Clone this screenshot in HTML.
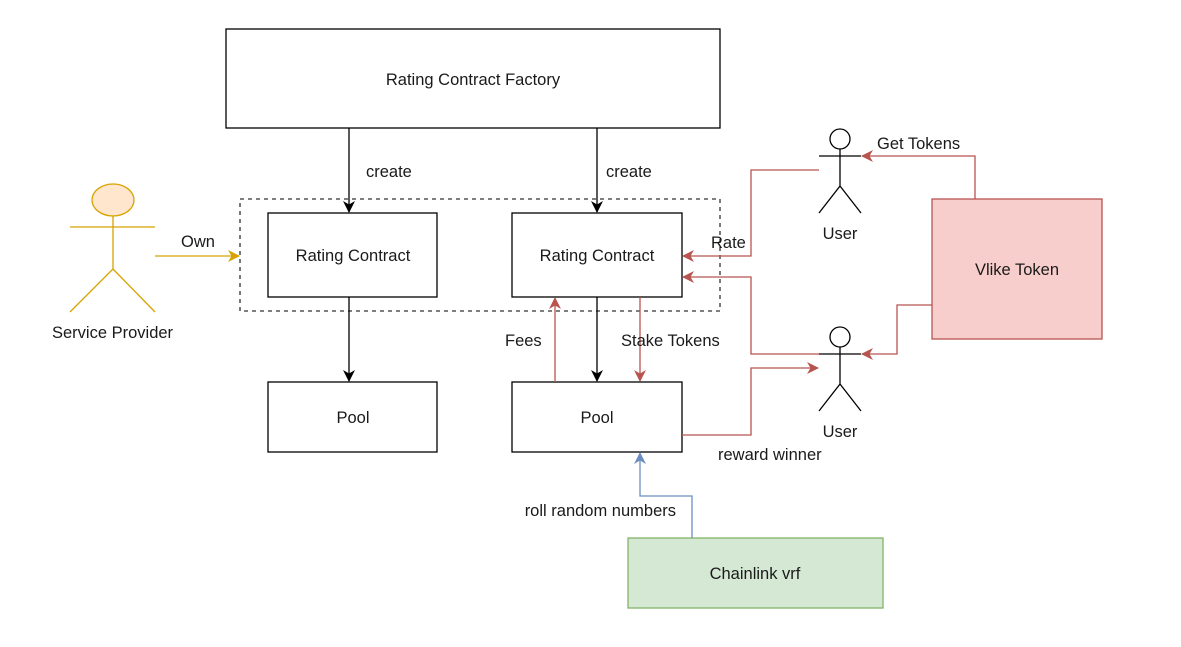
<!DOCTYPE html>
<html><head><meta charset="utf-8"><style>
html,body{margin:0;padding:0;background:#fff;}
svg{display:block;}
text{font-family:"Liberation Sans",Arial,sans-serif;font-size:16.5px;fill:#1a1a1a;}
</style></head><body>
<svg width="1181" height="647" viewBox="0 0 1181 647" xmlns="http://www.w3.org/2000/svg">
<defs>
<marker id="ab" markerWidth="12" markerHeight="12" refX="11" refY="6" orient="auto" markerUnits="userSpaceOnUse"><path d="M0,0 L12,6 L0,12 L3.5,6 Z" fill="#000"/></marker>
<marker id="ar" markerWidth="12" markerHeight="12" refX="11" refY="6" orient="auto" markerUnits="userSpaceOnUse"><path d="M0,0 L12,6 L0,12 L3.5,6 Z" fill="#b85450"/></marker>
<marker id="ay" markerWidth="12" markerHeight="12" refX="11" refY="6" orient="auto" markerUnits="userSpaceOnUse"><path d="M0,0 L12,6 L0,12 L3.5,6 Z" fill="#d6a300"/></marker>
<marker id="abl" markerWidth="12" markerHeight="12" refX="11" refY="6" orient="auto" markerUnits="userSpaceOnUse"><path d="M0,0 L12,6 L0,12 L3.5,6 Z" fill="#6c8ebf"/></marker>
</defs>
<rect x="226" y="29" width="494" height="99" fill="#fff" stroke="#000" stroke-width="1.3"/>
<text x="473" y="85" text-anchor="middle">Rating Contract Factory</text>
<rect x="240" y="199" width="480" height="112" fill="none" stroke="#333" stroke-width="1.3" stroke-dasharray="4,4"/>
<rect x="268" y="213" width="169" height="84" fill="#fff" stroke="#000" stroke-width="1.3"/>
<text x="353" y="261" text-anchor="middle">Rating Contract</text>
<rect x="512" y="213" width="170" height="84" fill="#fff" stroke="#000" stroke-width="1.3"/>
<text x="597" y="261" text-anchor="middle">Rating Contract</text>
<rect x="268" y="382" width="169" height="70" fill="#fff" stroke="#000" stroke-width="1.3"/>
<text x="353" y="423" text-anchor="middle">Pool</text>
<rect x="512" y="382" width="170" height="70" fill="#fff" stroke="#000" stroke-width="1.3"/>
<text x="597" y="423" text-anchor="middle">Pool</text>
<rect x="628" y="538" width="255" height="70" fill="#d5e8d4" stroke="#82b366" stroke-width="1.3"/>
<text x="755" y="579" text-anchor="middle">Chainlink vrf</text>
<rect x="932" y="199" width="170" height="140" fill="#f8cecc" stroke="#b85450" stroke-width="1.3"/>
<text x="1017" y="275" text-anchor="middle">Vlike Token</text>
<g stroke="#000" stroke-width="1.3" fill="none">
<path d="M349,128 V212" marker-end="url(#ab)"/>
<path d="M597,128 V212" marker-end="url(#ab)"/>
<path d="M349,297 V381" marker-end="url(#ab)"/>
<path d="M597,297 V381" marker-end="url(#ab)"/>
</g>
<text x="366" y="177">create</text>
<text x="606" y="177">create</text>
<g stroke="#d6a300" stroke-width="1.3" fill="none">
<ellipse cx="113" cy="200" rx="21" ry="16" fill="#ffe6cc"/>
<path d="M70,227 H155 M113,216 V269 L70,312 M113,269 L155,312"/>
<path d="M155,256 H239" marker-end="url(#ay)"/>
</g>
<text x="52" y="338">Service Provider</text>
<text x="181" y="247">Own</text>
<g stroke="#000" stroke-width="1.3" fill="#fff">
<circle cx="840" cy="139" r="10"/>
<path d="M819,156 H861 M840,149 V186 L819,213 M840,186 L861,213" fill="none"/>
<circle cx="840" cy="337" r="10"/>
<path d="M819,354 H861 M840,347 V384 L819,411 M840,384 L861,411" fill="none"/>
</g>
<text x="840" y="239" text-anchor="middle">User</text>
<text x="840" y="437" text-anchor="middle">User</text>
<g stroke="#b85450" stroke-width="1.3" fill="none">
<path d="M819,170 H751 V256 H683" marker-end="url(#ar)"/>
<path d="M819,354 H751 V277 H683" marker-end="url(#ar)"/>
<path d="M555,382 V298" marker-end="url(#ar)"/>
<path d="M640,297 V381" marker-end="url(#ar)"/>
<path d="M682,435 H751 V368 H818" marker-end="url(#ar)"/>
<path d="M975,199 V156 H862" marker-end="url(#ar)"/>
<path d="M932,305 H897 V354 H862" marker-end="url(#ar)"/>
</g>
<text x="711" y="248">Rate</text>
<text x="505" y="346">Fees</text>
<text x="621" y="346">Stake Tokens</text>
<text x="718" y="460">reward winner</text>
<text x="877" y="149">Get Tokens</text>
<path d="M692,538 V496 H640 V453" stroke="#6c8ebf" stroke-width="1.3" fill="none" marker-end="url(#abl)"/>
<text x="676" y="516" text-anchor="end">roll random numbers</text>
</svg>
</body></html>
